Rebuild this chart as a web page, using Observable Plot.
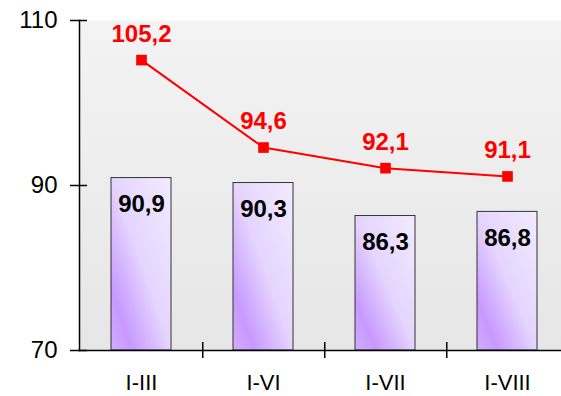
<!DOCTYPE html>
<html>
<head>
<meta charset="utf-8">
<script src="https://cdn.jsdelivr.net/npm/d3@7"></script>
<script src="https://cdn.jsdelivr.net/npm/@observablehq/plot@0.6"></script>
<style>
  html, body { margin: 0; padding: 0; background: white; }
</style>
</head>
<body>
<div id="chart"></div>
<script>
const categories = ["I-III", "I-VI", "I-VII", "I-VIII"];
const barValues = [90.9, 90.3, 86.3, 86.8];
const lineValues = [105.2, 94.6, 92.1, 91.1];
const yTicks = [70, 90, 110];

const data = categories.map((c, i) => ({c, bar: barValues[i], line: lineValues[i]}));
const fmt = v => v.toFixed(1).replace(".", ",");

const plot = Plot.plot({
  width: 561,
  height: 396,
  marginLeft: 79,
  marginTop: 20,
  marginBottom: 46,
  marginRight: -8,
  style: {fontFamily: "'Liberation Sans', Arial, sans-serif", background: "white", color: "black"},
  x: {domain: categories, paddingInner: 0.51, paddingOuter: 0.255, label: null},
  y: {domain: [70, 110], label: null},
  marks: [
    Plot.frame({fill: "url(#bgGrad)", stroke: "none"}),
    Plot.barY(data, {x: "c", y1: d => 70, y2: "bar", fill: "url(#barGrad)", stroke: "#333", strokeWidth: 1}),
    Plot.text(data, {x: "c", y: "bar", text: d => fmt(d.bar), dy: 26, fontSize: 24, fontWeight: "bold", fill: "black"}),
    Plot.axisY({ticks: yTicks, tickSize: 0, tickPadding: 22, fontSize: 24, tickFormat: d => String(d), label: null}),
    Plot.axisY({ticks: yTicks, tickSize: 17, dx: 8, text: null, strokeWidth: 1.5, label: null}),
    Plot.axisX({tickSize: 0, tickPadding: 24, fontSize: 22, label: null}),
    Plot.axisX({ticks: categories.slice(0, 3), tickSize: 16, dy: -8, dx: 61.25, text: null, label: null, strokeWidth: 1.5}),
    Plot.frame({anchor: "left", stroke: "black", strokeWidth: 1.5}),
    Plot.frame({anchor: "bottom", stroke: "black", strokeWidth: 1.5}),
    Plot.line(data, {x: "c", y: "line", stroke: "#ff0000", strokeWidth: 2}),
    Plot.dot(data, {x: "c", y: "line", symbol: "square", r: 6, fill: "#ff0000", stroke: "none"}),
    Plot.text(data, {x: "c", y: "line", text: d => fmt(d.line), dy: -26, fontSize: 24, fontWeight: "bold", fill: "#ff0000"})
  ]
});

const ns = "http://www.w3.org/2000/svg";
const defs = document.createElementNS(ns, "defs");
defs.innerHTML = `
  <linearGradient id="bgGrad" x1="0" y1="0" x2="0" y2="1">
    <stop offset="0" stop-color="#f3f3f3"/>
    <stop offset="1" stop-color="#e6e6e6"/>
  </linearGradient>
  <linearGradient id="barGrad" x1="0" y1="1" x2="1" y2="0">
    <stop offset="0" stop-color="#d0acff"/>
    <stop offset="0.18" stop-color="#c899ff"/>
    <stop offset="0.5" stop-color="#e4d4ff"/>
    <stop offset="1" stop-color="#f3ebff"/>
  </linearGradient>`;
plot.insertBefore(defs, plot.firstChild);
document.getElementById("chart").appendChild(plot);
</script>
</body>
</html>
